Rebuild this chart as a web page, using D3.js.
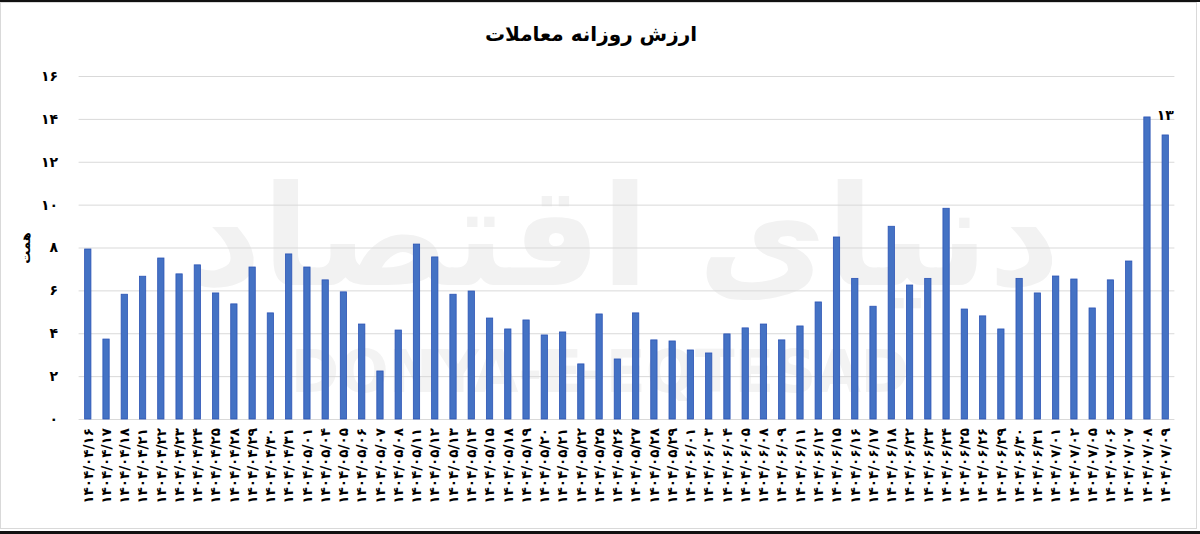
<!DOCTYPE html>
<html>
<head>
<meta charset="utf-8">
<script src="https://cdn.jsdelivr.net/npm/d3@7"></script>
<style>
  body { margin: 0; background: #fff; }
  svg { display: block; font-family: "DejaVu Sans", sans-serif; }
</style>
</head>
<body>
<div id="chart"></div>
<script>
// trading days (Solar Hijri), as printed under the bars
var dates = [
  "۱۴۰۴/۰۴/۱۶", "۱۴۰۴/۰۴/۱۷", "۱۴۰۴/۰۴/۱۸", "۱۴۰۴/۰۴/۲۱", "۱۴۰۴/۰۴/۲۲", "۱۴۰۴/۰۴/۲۳",
  "۱۴۰۴/۰۴/۲۴", "۱۴۰۴/۰۴/۲۵", "۱۴۰۴/۰۴/۲۸", "۱۴۰۴/۰۴/۲۹", "۱۴۰۴/۰۴/۳۰", "۱۴۰۴/۰۴/۳۱",
  "۱۴۰۴/۰۵/۰۱", "۱۴۰۴/۰۵/۰۴", "۱۴۰۴/۰۵/۰۵", "۱۴۰۴/۰۵/۰۶", "۱۴۰۴/۰۵/۰۷", "۱۴۰۴/۰۵/۰۸",
  "۱۴۰۴/۰۵/۱۱", "۱۴۰۴/۰۵/۱۲", "۱۴۰۴/۰۵/۱۳", "۱۴۰۴/۰۵/۱۴", "۱۴۰۴/۰۵/۱۵", "۱۴۰۴/۰۵/۱۸",
  "۱۴۰۴/۰۵/۱۹", "۱۴۰۴/۰۵/۲۰", "۱۴۰۴/۰۵/۲۱", "۱۴۰۴/۰۵/۲۲", "۱۴۰۴/۰۵/۲۵", "۱۴۰۴/۰۵/۲۶",
  "۱۴۰۴/۰۵/۲۷", "۱۴۰۴/۰۵/۲۸", "۱۴۰۴/۰۵/۲۹", "۱۴۰۴/۰۶/۰۱", "۱۴۰۴/۰۶/۰۳", "۱۴۰۴/۰۶/۰۴",
  "۱۴۰۴/۰۶/۰۵", "۱۴۰۴/۰۶/۰۸", "۱۴۰۴/۰۶/۰۹", "۱۴۰۴/۰۶/۱۱", "۱۴۰۴/۰۶/۱۲", "۱۴۰۴/۰۶/۱۵",
  "۱۴۰۴/۰۶/۱۶", "۱۴۰۴/۰۶/۱۷", "۱۴۰۴/۰۶/۱۸", "۱۴۰۴/۰۶/۲۲", "۱۴۰۴/۰۶/۲۳", "۱۴۰۴/۰۶/۲۴",
  "۱۴۰۴/۰۶/۲۵", "۱۴۰۴/۰۶/۲۶", "۱۴۰۴/۰۶/۲۹", "۱۴۰۴/۰۶/۳۰", "۱۴۰۴/۰۶/۳۱", "۱۴۰۴/۰۷/۰۱",
  "۱۴۰۴/۰۷/۰۲", "۱۴۰۴/۰۷/۰۵", "۱۴۰۴/۰۷/۰۶", "۱۴۰۴/۰۷/۰۷", "۱۴۰۴/۰۷/۰۸", "۱۴۰۴/۰۷/۰۹"
];

// daily trade value, thousand billion toman (همت)
var values = [
  7.93, 3.73, 5.82, 6.66, 7.51, 6.77, 7.19, 5.88, 5.37, 7.09, 4.95, 7.70,
  7.09, 6.49, 5.93, 4.43, 2.24, 4.15, 8.16, 7.56, 5.82, 5.97, 4.71, 4.20,
  4.62, 3.92, 4.06, 2.57, 4.90, 2.80, 4.95, 3.69, 3.64, 3.22, 3.08, 3.97,
  4.25, 4.43, 3.69, 4.34, 5.46, 8.49, 6.56, 5.26, 8.99, 6.25, 6.56, 9.83,
  5.13, 4.81, 4.20, 6.56, 5.88, 6.67, 6.53, 5.18, 6.49, 7.37, 14.09, 13.25
];

var yTicks = [0, 2, 4, 6, 8, 10, 12, 14, 16];

// only the last bar carries a data label
var labelled = ["۱۴۰۴/۰۷/۰۹"];

var title = "ارزش روزانه معاملات";
var yTitle = "همت";

var data = dates.map(function(d, i) { return {date: d, value: values[i]}; });

// western -> persian digits
function fa(n) {
  return String(n).replace(/[0-9]/g, function(c) { return "۰۱۲۳۴۵۶۷۸۹"[+c]; });
}

var width = 1200,
    height = 534;

var plotLeft = 78.6,
    plotRight = 1174.4;

var x = d3.scaleBand()
    .domain(dates)
    .range([plotLeft, plotRight])
    .paddingInner(0.655)
    .paddingOuter(0.33);

var y = d3.scaleLinear()
    .domain([0, 16])
    .range([419, 76]);

var svg = d3.select("#chart").append("svg")
    .attr("width", width)
    .attr("height", height);

// frame
svg.append("rect")
    .attr("x", 0.5).attr("y", 2.5)
    .attr("width", 1196).attr("height", 526)
    .attr("fill", "#fff")
    .attr("stroke", "#d9d9d9");
svg.append("rect").attr("x", 0).attr("y", 0).attr("width", width).attr("height", 2).attr("fill", "#111");
svg.append("rect").attr("x", 0).attr("y", 531).attr("width", width).attr("height", 3).attr("fill", "#111");

// faint watermark
svg.append("text")
    .attr("x", 625).attr("y", 285)
    .attr("text-anchor", "middle")
    .style("font-size", "140px")
    .style("font-weight", "bold")
    .attr("fill", "#f2f2f2")
    .text("دنیای اقتصاد");
svg.append("text")
    .attr("x", 600).attr("y", 392)
    .attr("text-anchor", "middle")
    .style("font-size", "58px")
    .style("font-weight", "bold")
    .attr("fill", "#f3f3f3")
    .text("DONYA-E-EQTESAD");

// gridlines
svg.append("g")
    .attr("class", "grid")
    .attr("transform", "translate(" + plotLeft + ",0)")
    .call(d3.axisLeft(y).tickValues(yTicks).tickSize(-(plotRight - plotLeft)).tickFormat(""))
    .call(function(g) {
      g.select(".domain").remove();
      g.selectAll("line").attr("stroke", "#d9d9d9").attr("stroke-width", 1);
    });

// y tick labels
svg.append("g")
    .attr("transform", "translate(58,0)")
    .call(d3.axisLeft(y).tickValues(yTicks).tickSize(0).tickPadding(0).tickFormat(fa))
    .call(function(g) {
      g.select(".domain").remove();
      g.selectAll("text")
        .attr("fill", "#000")
        .style("font-size", "14px")
        .style("font-weight", "bold")
        .style("font-family", "DejaVu Sans, sans-serif");
    });

// bars
svg.selectAll(".bar")
    .data(data)
  .enter().append("rect")
    .attr("class", "bar")
    .attr("x", function(d) { return x(d.date); })
    .attr("width", x.bandwidth())
    .attr("y", function(d) { return y(d.value); })
    .attr("height", function(d) { return y(0) - y(d.value); })
    .attr("fill", "#4472c4")
    .attr("stroke", "#2c54b5")
    .attr("stroke-width", 0.8);

// x labels, rotated
svg.append("g")
    .attr("transform", "translate(0," + 428 + ")")
    .call(d3.axisBottom(x).tickSize(0).tickPadding(0))
    .call(function(g) {
      g.select(".domain").remove();
      g.selectAll("text")
        .attr("transform", "rotate(-90)")
        .attr("x", 0)
        .attr("y", 0)
        .attr("dy", "0.35em")
        .attr("text-anchor", "end")
        .attr("fill", "#000")
        .style("font-size", "13.5px")
        .style("font-weight", "bold")
        .style("font-family", "DejaVu Sans, sans-serif");
    });

// data label
svg.selectAll(".lbl")
    .data(data.filter(function(d) { return labelled.indexOf(d.date) >= 0; }))
  .enter().append("text")
    .attr("class", "lbl")
    .attr("x", function(d) { return x(d.date) + x.bandwidth() / 2; })
    .attr("y", function(d) { return y(d.value) - 15; })
    .attr("text-anchor", "middle")
    .style("font-size", "14px")
    .style("font-weight", "bold")
    .text(function(d) { return fa(Math.round(d.value)); });

// title
svg.append("text")
    .attr("x", 591).attr("y", 41)
    .attr("text-anchor", "middle")
    .style("font-size", "20px")
    .style("font-weight", "bold")
    .text(title);

// y axis title
svg.append("text")
    .attr("transform", "translate(25,248) rotate(-90)")
    .attr("text-anchor", "middle")
    .attr("dy", "0.35em")
    .style("font-size", "13px")
    .style("font-weight", "bold")
    .text(yTitle);
</script>
</body>
</html>
